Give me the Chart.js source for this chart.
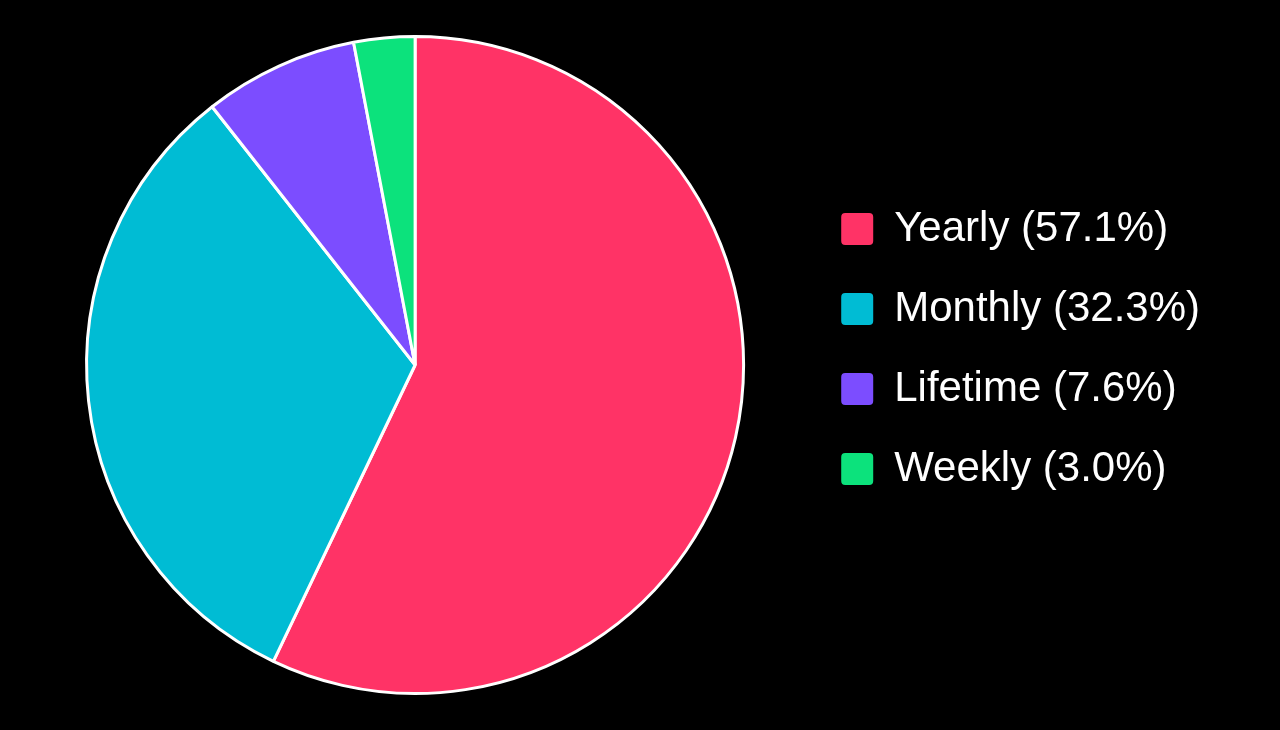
<!DOCTYPE html>
<html>
<head>
<meta charset="utf-8">
<script src="https://cdn.jsdelivr.net/npm/chart.js@4"></script>
<style>
  html,body{margin:0;padding:0;background:#000;}
  #wrap{width:1280px;height:730px;}
</style>
</head>
<body>
<div id="wrap"><canvas id="c" width="1280" height="730"></canvas></div>
<script>
const LABELS=['Yearly','Monthly','Lifetime','Weekly'];
const SHARES=[57.1,32.3,7.6,3.0];
const COLORS=['#ff3366','#00bcd4','#7c4dff','#0ce27c'];

// legend sits a little above the vertical centre in the original
const liftLegend={id:'liftLegend',afterLayout(chart){chart.legend.top-=16;chart.legend.bottom-=16;}};

new Chart(document.getElementById('c'),{type:'pie',
  data:{labels:LABELS,datasets:[{data:SHARES,backgroundColor:COLORS,borderColor:'#fff',borderWidth:3}]},
  options:{responsive:false,animation:false,
    layout:{padding:{left:27,top:35,bottom:35,right:70}},
    plugins:{tooltip:{enabled:false},
      legend:{position:'right',
        labels:{color:'#fff',font:{family:'"Liberation Sans", Arial, sans-serif',size:42},
          boxWidth:32,boxHeight:32,padding:38,useBorderRadius:true,borderRadius:4,
          generateLabels(chart){
            const ds=chart.data.datasets[0];
            const tot=ds.data.reduce((a,b)=>a+b,0);
            return chart.data.labels.map((l,i)=>({
              text:`${l} (${(ds.data[i]/tot*100).toFixed(1)}%)`,
              fillStyle:COLORS[i],strokeStyle:COLORS[i],lineWidth:0,
              fontColor:'#fff',index:i,hidden:false,borderRadius:4}));
          }}}}},
  plugins:[liftLegend]});
</script>
</body>
</html>
